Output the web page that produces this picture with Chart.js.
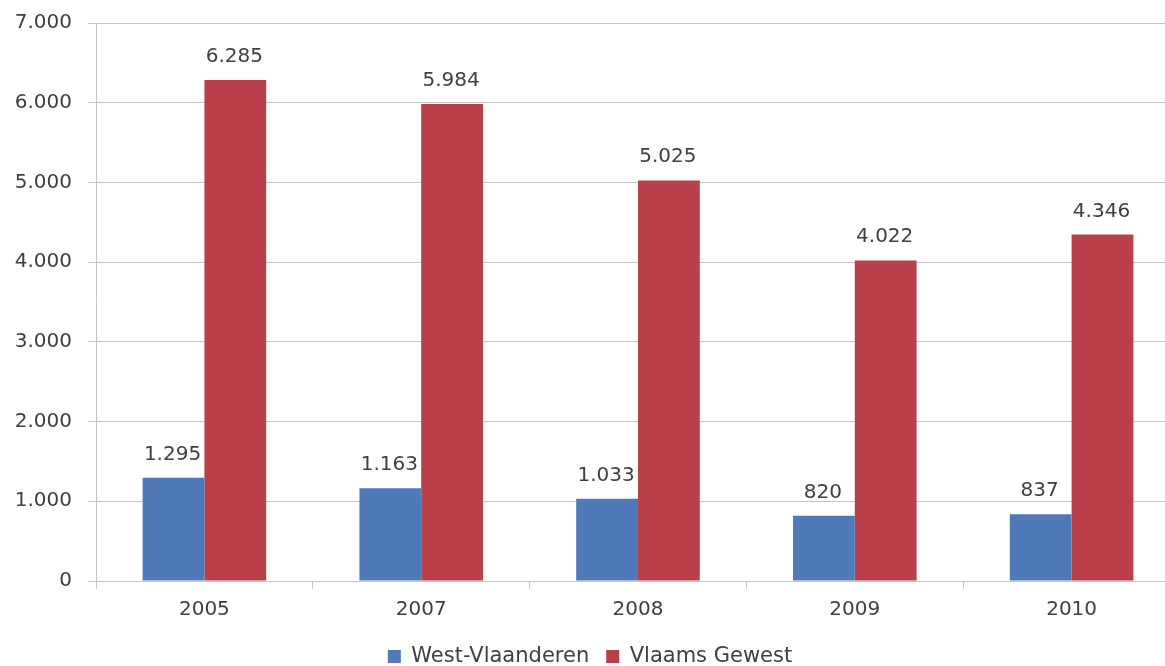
<!DOCTYPE html>
<html>
<head>
<meta charset="utf-8">
<script src="https://cdn.jsdelivr.net/npm/chart.js@4"></script>
<style>
  html, body { margin: 0; padding: 0; background: #fff; overflow: hidden; }
  #wrap { position: absolute; left: 0; top: 0; width: 1180px; height: 677px; }
</style>
</head>
<body>
<div id="wrap"><canvas id="grafiek"></canvas></div>
<script>
const years = ['2005', '2007', '2008', '2009', '2010'];
const westVlaanderen = [1295, 1163, 1033, 820, 837];
const vlaamsGewest = [6285, 5984, 5025, 4022, 4346];
const yTicks = [0, 1000, 2000, 3000, 4000, 5000, 6000, 7000];

const textColor = '#404040';
const gridColor = '#cbc3cb';

function fmt(v) {
  return String(v).replace(/\B(?=(\d{3})+(?!\d))/g, '.');
}

// waarden boven de staven
const valueLabels = {
  id: 'valueLabels',
  afterDatasetsDraw(chart) {
    const ctx = chart.ctx;
    ctx.save();
    ctx.font = '20px "DejaVu Sans"';
    ctx.fillStyle = textColor;
    ctx.textAlign = 'center';
    ctx.textBaseline = 'alphabetic';
    chart.data.datasets.forEach((ds, i) => {
      chart.getDatasetMeta(i).data.forEach((bar, j) => {
        ctx.fillText(fmt(ds.data[j]), bar.x - 1, bar.y - 18);
      });
    });
    ctx.restore();
  }
};

new Chart(document.getElementById('grafiek'), {
  type: 'bar',
  data: {
    labels: years,
    datasets: [
      {
        label: 'West-Vlaanderen',
        data: westVlaanderen,
        backgroundColor: '#5079ba',
        categoryPercentage: 0.57,
        barPercentage: 1.0,
      },
      {
        label: 'Vlaams Gewest',
        data: vlaamsGewest,
        backgroundColor: '#b9404a',
        categoryPercentage: 0.57,
        barPercentage: 1.0,
      },
    ],
  },
  options: {
    responsive: true,
    maintainAspectRatio: false,
    animation: false,
    layout: { padding: { top: 23, right: 0, left: 0, bottom: 0 } },
    plugins: {
      legend: {
        position: 'bottom',
        labels: {
          boxWidth: 13,
          boxHeight: 13,
          padding: 17,
          color: textColor,
          font: { family: 'DejaVu Sans', size: 21 },
        },
      },
      tooltip: { enabled: false },
    },
    scales: {
      x: {
        grid: {
          offset: true,
          drawOnChartArea: false,
          tickLength: 8,
          color: gridColor,
        },
        border: { color: gridColor },
        ticks: {
          color: textColor,
          padding: 9,
          font: { family: 'DejaVu Sans', size: 20 },
        },
        afterFit(scale) { scale.height = 48; },
      },
      y: {
        min: 0,
        max: 7000,
        afterBuildTicks(scale) {
          scale.ticks = yTicks.map(v => ({ value: v }));
        },
        grid: {
          color: gridColor,
          tickLength: 8,
        },
        border: { color: gridColor },
        ticks: {
          color: textColor,
          padding: 16,
          font: { family: 'DejaVu Sans', size: 20 },
          callback: v => fmt(v),
        },
        afterFit(scale) {
          scale.width = 96;
          scale.paddingTop = 0;
          scale.paddingBottom = 0;
        },
      },
    },
  },
  plugins: [valueLabels],
});
</script>
</body>
</html>
